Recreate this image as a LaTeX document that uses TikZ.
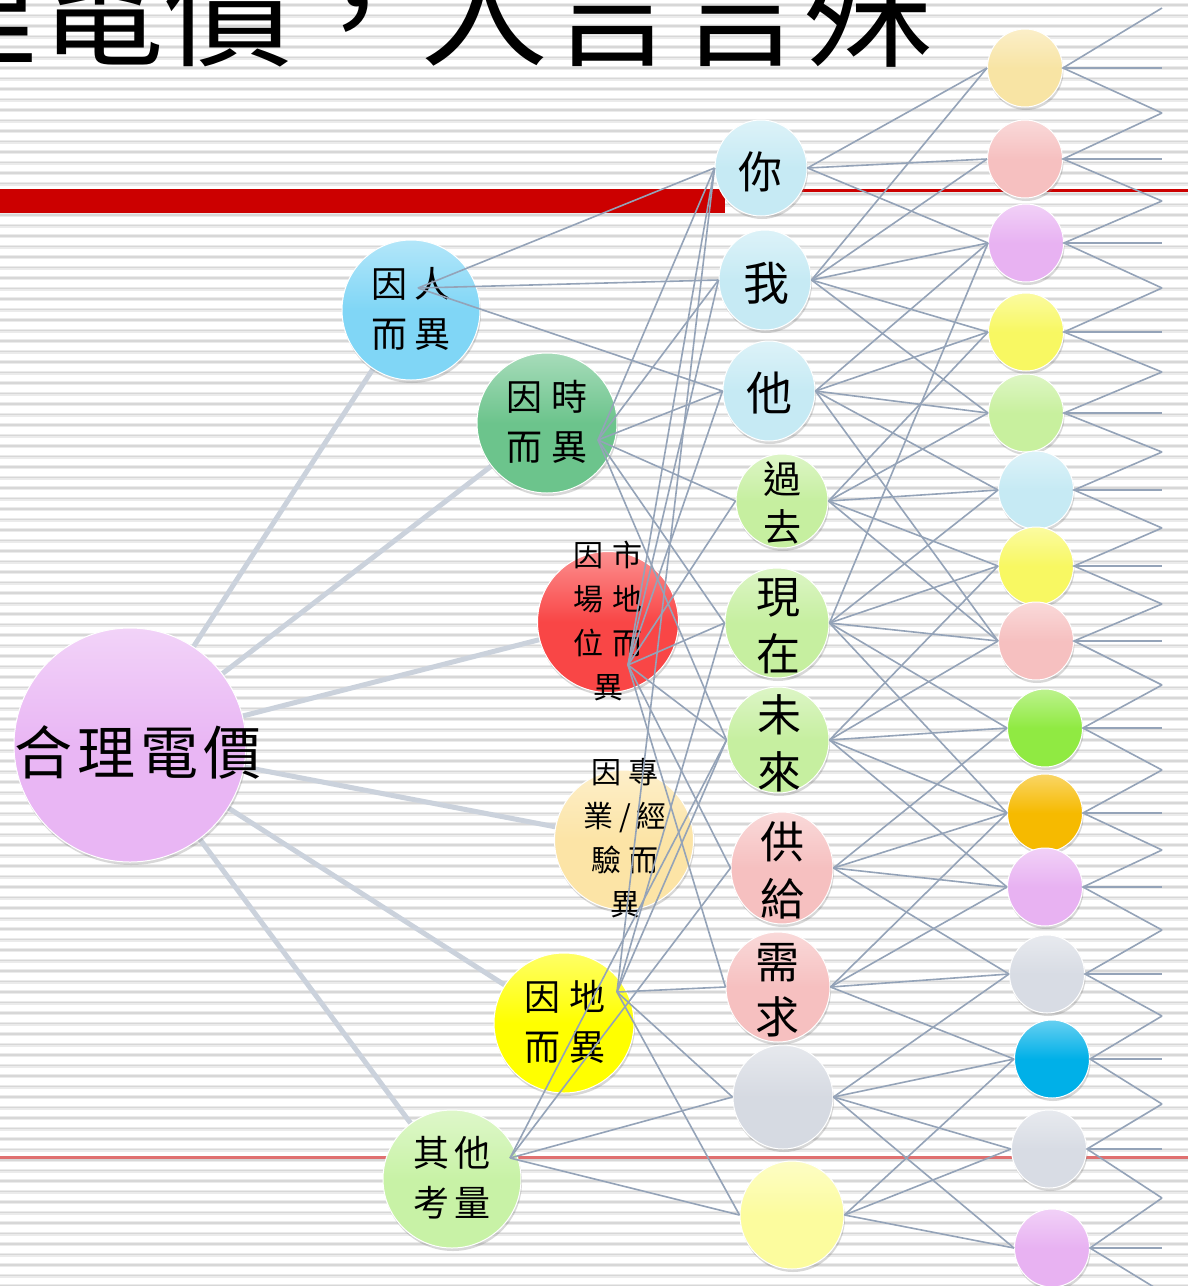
\documentclass[tikz,border=0pt]{standalone}
\usepackage{fontspec}
\newfontfamily\cjk{Noto Sans CJK TC}
\usetikzlibrary{shapes.geometric,shadows}
\pgfdeclarelayer{bg}
\pgfsetlayers{bg,main}
\definecolor{cMain}{HTML}{E9B6F4}
\definecolor{cRen}{HTML}{80D6F6}
\definecolor{cShi}{HTML}{6CC48C}
\definecolor{cMkt}{HTML}{F94646}
\definecolor{cZhuan}{HTML}{FCE4A6}
\definecolor{cDi}{HTML}{FFFF00}
\definecolor{cQita}{HTML}{C8F2A6}
\definecolor{cBlue}{HTML}{C6EAF4}
\definecolor{cGreen}{HTML}{C6EFA0}
\definecolor{cPink}{HTML}{F6C0C0}
\definecolor{cGray}{HTML}{D6DAE2}
\definecolor{cPY}{HTML}{FCFC9E}
\definecolor{cRa}{HTML}{F8E4A4}
\definecolor{cRb}{HTML}{E8B2F2}
\definecolor{cRc}{HTML}{F8F862}
\definecolor{cRd}{HTML}{C8F09E}
\definecolor{cRe}{HTML}{90EA42}
\definecolor{cRf}{HTML}{F6BA00}
\definecolor{cRg}{HTML}{00B0E8}
\definecolor{cRh}{HTML}{D8DCE4}
\definecolor{lineC}{HTML}{94A3B8}
\definecolor{trunkC}{HTML}{CBD2DC}
\definecolor{barRed}{HTML}{CC0000}
\definecolor{thinRed}{HTML}{E07070}
\definecolor{stripeA}{HTML}{EBEBEB}
\definecolor{stripeB}{HTML}{D7D7D7}
\tikzset{
  bub/.style={ellipse, inner sep=0pt, draw=white, line width=1pt,
    top color=#1!60!white, bottom color=#1, middle color=#1,
    drop shadow={opacity=0.3, shadow xshift=1pt, shadow yshift=-3pt}},
  lbl/.style 2 args={inner sep=0pt, align=center, font=\cjk\fontsize{#1}{#2}\selectfont},
  conn/.style={draw=lineC, line width=1.6pt},
  trunk/.style={draw=trunkC, line width=5pt},
  rb/.style={bub=#1, minimum width=75pt, minimum height=78pt}
}
\begin{document}
\begin{tikzpicture}[x=1pt,y=-1pt]
\useasboundingbox (0,0) rectangle (1188,1286);
% ---------- nodes ----------
\node[bub=cMain, minimum width=232pt, minimum height=234pt] (main) at (130,745) {};
\node[lbl={58}{60}] at (138,752) {合\hspace{5pt}理\hspace{5pt}電\hspace{5pt}價};

\node[bub=cRen, minimum width=138pt, minimum height=140pt] (ren) at (411,310) {};
\node[bub=cShi, minimum width=140pt, minimum height=140pt] (shi) at (547,423) {};
\node[bub=cMkt, minimum width=141pt, minimum height=141pt] (mkt) at (608,622) {};
\node[bub=cZhuan, minimum width=139pt, minimum height=140pt] (zhuan) at (624,840) {};
\node[bub=cDi, minimum width=140pt, minimum height=140pt] (di) at (564,1023) {};
\node[bub=cQita, minimum width=138pt, minimum height=138pt] (qita) at (452,1179) {};

\node[lbl={36}{50}] at (411,309) {因\hspace{8pt}人\\而\hspace{8pt}異};
\node[lbl={36}{50}] at (547,422) {因\hspace{10pt}時\\而\hspace{10pt}異};
\node[lbl={30}{44}] at (608,621) {因\hspace{10pt}市\\場\hspace{10pt}地\\位\hspace{10pt}而\\異};
\node[lbl={30}{44}] at (625,838) {因\hspace{8pt}專\\業\hspace{6pt}/\hspace{6pt}經\\驗\hspace{8pt}而\\異};
\node[lbl={36}{50}] at (565,1022) {因\hspace{9pt}地\\而\hspace{9pt}異};
\node[lbl={36}{50}] at (452,1178) {其\hspace{6pt}他\\考\hspace{6pt}量};

\node[bub=cBlue, minimum width=92pt, minimum height=96pt] (ni) at (761,168) {};
\node[bub=cBlue, minimum width=92pt, minimum height=100pt] (wo) at (765,280) {};
\node[bub=cBlue, minimum width=92pt, minimum height=100pt] (ta) at (769,391) {};
\node[bub=cGreen, minimum width=92pt, minimum height=94pt] (guo) at (782,501) {};
\node[bub=cGreen, minimum width=104pt, minimum height=110pt] (xian) at (777,623) {};
\node[bub=cGreen, minimum width=102pt, minimum height=106pt] (wei) at (778,740) {};
\node[bub=cPink, minimum width=102pt, minimum height=112pt] (gong) at (782,868) {};
\node[bub=cPink, minimum width=104pt, minimum height=110pt] (xu) at (778,987) {};
\node[bub=cGray, minimum width=100pt, minimum height=104pt] (hui) at (783,1097) {};
\node[bub=cPY, minimum width=104pt, minimum height=108pt] (huang) at (792,1215) {};

\node[lbl={44}{44}] at (760,172) {你};
\node[lbl={46}{46}] at (766,283) {我};
\node[lbl={46}{46}] at (769,393) {他};
\node[lbl={38}{48}] at (782,503) {過\\去};
\node[lbl={44}{57}] at (778,626) {現\\在};
\node[lbl={44}{57}] at (779,743) {未\\來};
\node[lbl={44}{57}] at (782,870) {供\\給};
\node[lbl={44}{55}] at (777,990) {需\\求};

\node[rb=cRa] (r1) at (1025,68) {};
\node[rb=cPink] (r2) at (1025,159) {};
\node[rb=cRb] (r3) at (1026,243) {};
\node[rb=cRc] (r4) at (1026,332) {};
\node[rb=cRd] (r5) at (1026,413) {};
\node[rb=cBlue] (r6) at (1036,490) {};
\node[rb=cRc] (r7) at (1036,566) {};
\node[rb=cPink] (r8) at (1036,641) {};
\node[rb=cRe] (r9) at (1045,728) {};
\node[rb=cRf] (r10) at (1045,813) {};
\node[rb=cRb] (r11) at (1045,887) {};
\node[rb=cRh] (r12) at (1047,974) {};
\node[rb=cRg] (r13) at (1052,1059) {};
\node[rb=cRh] (r14) at (1049,1149) {};
\node[rb=cRb] (r15) at (1052,1248) {};

% ---------- background layer ----------
\begin{pgfonlayer}{bg}
  \clip (0,0) rectangle (1188,1286);
  \fill[white] (0,0) rectangle (1188,1286);
  \foreach \i in {0,...,123} {
    \draw[stripeA, line width=4pt] (0,{5+\i*10.5}) -- (1188,{5+\i*10.5});
    \draw[stripeB, line width=1.8pt] (0,{5+\i*10.5}) -- (1188,{5+\i*10.5});
  }
  \fill[barRed] (0,189) rectangle (725,213);
  \fill[barRed] (0,189) rectangle (1188,192);
  \fill[thinRed] (0,1156) rectangle (1188,1158.5);
  \node[anchor=base west, inner sep=0pt, font=\cjk\fontsize{128}{128}\selectfont] (title) at (-220,56) {合理電價，人言言殊};
  \foreach \t in {ren,shi,mkt,zhuan,di,qita} \draw[trunk] (main) -- (\t);
\end{pgfonlayer}

% ---------- fan points ----------
\coordinate (renP) at (418,288);
\coordinate (shiP) at (598,440);
\coordinate (mktP) at (628,665);
\coordinate (diP) at (617,992);
\coordinate (qtP) at (510,1158);

\foreach \t in {ni,wo,ta} \draw[conn] (renP) -- (\t.west);
\foreach \t in {ni,wo,ta,guo,xian,wei} \draw[conn] (shiP) -- (\t.west);
\foreach \t in {ni,wo,ta,guo,xian,wei,gong,xu} \draw[conn] (mktP) -- (\t.west);
\foreach \t in {ni,xian,wei,xu,hui,huang} \draw[conn] (diP) -- (\t.west);
\foreach \t in {wei,gong,hui,huang} \draw[conn] (qtP) -- (\t.west);

% ---------- middle to right ----------
\foreach \t in {r1,r2,r3} \draw[conn] (ni.east) -- (\t.west);
\foreach \t in {r1,r2,r3,r4,r5} \draw[conn] (wo.east) -- (\t.west);
\foreach \t in {r3,r4,r5,r6,r8} \draw[conn] (ta.east) -- (\t.west);
\foreach \t in {r4,r5,r6,r7,r8} \draw[conn] (guo.east) -- (\t.west);
\foreach \t in {r3,r6,r7,r8,r9,r10} \draw[conn] (xian.east) -- (\t.west);
\foreach \t in {r7,r8,r9,r10,r11} \draw[conn] (wei.east) -- (\t.west);
\foreach \t in {r9,r10,r11,r12} \draw[conn] (gong.east) -- (\t.west);
\foreach \t in {r10,r11,r12,r13} \draw[conn] (xu.east) -- (\t.west);
\foreach \t in {r12,r13,r14,r15} \draw[conn] (hui.east) -- (\t.west);
\foreach \t in {r13,r14,r15} \draw[conn] (huang.east) -- (\t.west);

% ---------- right edge zigzag ----------
\foreach \k/\y in {0/8,1/113,2/201,3/288,4/372,5/452,6/528,7/604,8/685,9/770,10/850,11/930,12/1016,13/1104,14/1198,15/1292}
  \coordinate (e\k) at (1162,\y);
\foreach \k/\y in {1/68,2/159,3/243,4/332,5/413,6/490,7/566,8/641,9/728,10/813,11/887,12/974,13/1059,14/1149,15/1248}
  \coordinate (h\k) at (1162,\y);
\foreach \k [evaluate=\k as \km using int(\k-1)] in {1,...,15} {
  \draw[conn] (e\km) -- (r\k.east) -- (e\k);
  \draw[conn] (r\k.east) -- (h\k);
}
\end{tikzpicture}
\end{document}
